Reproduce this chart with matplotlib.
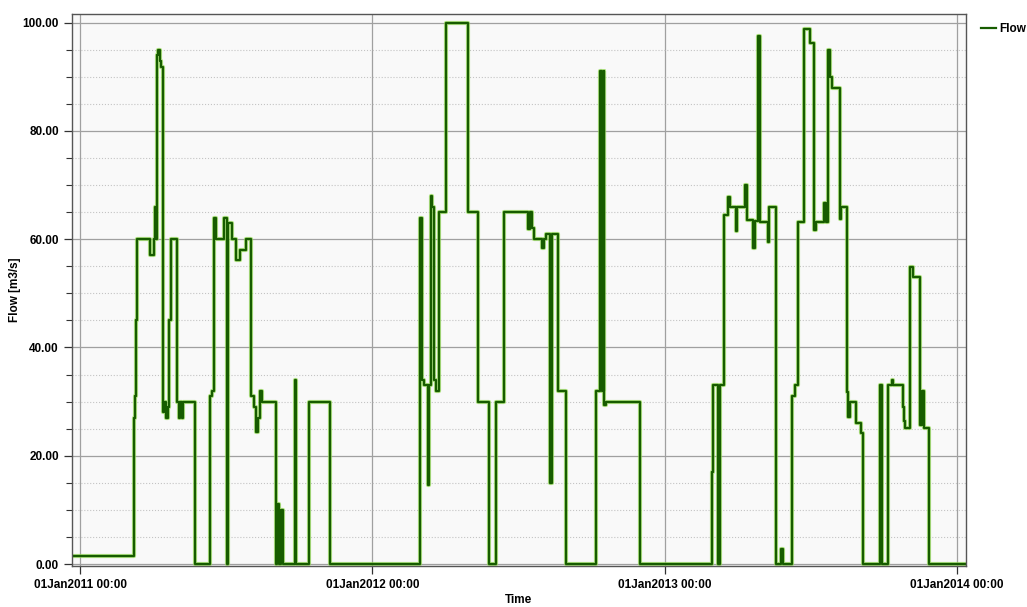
import matplotlib
matplotlib.use("Agg")
import matplotlib.pyplot as plt
import matplotlib.dates as mdates
from matplotlib.ticker import MultipleLocator, FormatStrFormatter
import pandas as pd

# step series: value holds from each date until the next one
dates = [
    "2010-12-21", "2011-03-09", "2011-03-10", "2011-03-11", "2011-03-13", "2011-03-29",
    "2011-04-03", "2011-04-04", "2011-04-05", "2011-04-07", "2011-04-08", "2011-04-10",
    "2011-04-12", "2011-04-14", "2011-04-16", "2011-04-18", "2011-04-20", "2011-04-22",
    "2011-04-24", "2011-05-02", "2011-05-04", "2011-05-06", "2011-05-08", "2011-05-09",
    "2011-05-24", "2011-06-12", "2011-06-15", "2011-06-17", "2011-06-20",
    "2011-06-30", "2011-07-03", "2011-07-05", "2011-07-09", "2011-07-15", "2011-07-19",
    "2011-07-27", "2011-08-02", "2011-08-06", "2011-08-08", "2011-08-11", "2011-08-13",
    "2011-08-16", "2011-09-03", "2011-09-04", "2011-09-06", "2011-09-09", "2011-09-11",
    "2011-09-26", "2011-09-28", "2011-10-14", "2011-11-09",
    "2012-03-01", "2012-03-03", "2012-03-06", "2012-03-11", "2012-03-12", "2012-03-14",
    "2012-03-16", "2012-03-18", "2012-03-21", "2012-03-24", "2012-04-02", "2012-04-30",
    "2012-05-12", "2012-05-26", "2012-06-03", "2012-06-13", "2012-07-14", "2012-07-16",
    "2012-07-18", "2012-07-21", "2012-07-31", "2012-08-02", "2012-08-05", "2012-08-10",
    "2012-08-12", "2012-08-20", "2012-08-30", "2012-10-06", "2012-10-11", "2012-10-14",
    "2012-10-16", "2012-10-17", "2012-10-19", "2012-12-01",
    "2013-03-01", "2013-03-02", "2013-03-08", "2013-03-10", "2013-03-15", "2013-03-21",
    "2013-03-23", "2013-03-30", "2013-04-01", "2013-04-11", "2013-04-13", "2013-04-21",
    "2013-04-23", "2013-04-27", "2013-04-30", "2013-05-09", "2013-05-11", "2013-05-19",
    "2013-05-26", "2013-05-28", "2013-06-08", "2013-06-09", "2013-06-12", "2013-06-16",
    "2013-06-24", "2013-07-01", "2013-07-06", "2013-07-08", "2013-07-19", "2013-07-21",
    "2013-07-23", "2013-07-26", "2013-07-28", "2013-08-07", "2013-08-09", "2013-08-16",
    "2013-08-18", "2013-08-20", "2013-08-28", "2013-09-03", "2013-09-05", "2013-09-27",
    "2013-09-29", "2013-10-07", "2013-10-11", "2013-10-13", "2013-10-25", "2013-10-27",
    "2013-10-28", "2013-11-03", "2013-11-07", "2013-11-15", "2013-11-18", "2013-11-21",
    "2013-11-27", "2014-01-12",
]
flow = [
    1.5, 27, 31, 45, 60, 57,
    60, 66, 60, 94, 95, 93,
    91.8, 28, 30, 27, 29, 45,
    60, 30, 27, 30, 27, 30,
    0, 31, 32, 64, 60,
    64, 0, 62.9, 60, 56.1, 58,
    60, 31, 29, 24.3, 27, 31.9,
    30, 0, 11, 0, 10, 0,
    34, 0, 30, 0,
    64, 34, 33, 14.6, 33, 68,
    66, 34, 32, 65, 100, 65,
    30, 0, 30, 65, 61.8, 65,
    62, 60, 58.4, 60, 61, 15,
    61, 32, 0, 32, 91, 32,
    91, 29.3, 30, 0,
    17, 33, 0, 33, 64.5, 67.8,
    66, 61.6, 66, 70, 63.5, 58.3,
    63.3, 97.5, 63.2, 59.5, 66, 0,
    2.7, 0, 15.6, 31, 33, 63.2,
    98.9, 96.2, 61.7, 63.2, 66.6, 63.2,
    94.9, 90, 88, 63.8, 66, 31.8,
    27.2, 30, 26, 24.2, 0, 33,
    0, 33, 34, 33, 29, 26.5,
    25.1, 54.9, 53, 25.6, 31.9, 25.1,
    0, 0,
]

year_ticks = ["2011-01-01", "2012-01-01", "2013-01-01", "2014-01-01"]

plt.rcParams["font.family"] = ["Liberation Sans", "DejaVu Sans"]

t = pd.to_datetime(dates)

fig = plt.figure(figsize=(10.27, 6.07), dpi=100)
ax = fig.add_axes([0.0701, 0.0675, 0.8705, 0.9095])
ax.set_facecolor("#f9f9f9")

# light halo under the dark line, like the original renderer
ax.plot(t, flow, drawstyle="steps-post", color="#8fd650", linewidth=3.0, alpha=0.7)
ax.plot(t, flow, drawstyle="steps-post", color="#175c00", linewidth=1.6, label="Flow")

ax.set_xlim(pd.Timestamp("2010-12-21 14:00"), pd.Timestamp("2014-01-12"))
ax.set_ylim(-0.37, 101.6)

ax.yaxis.set_major_locator(MultipleLocator(20))
ax.yaxis.set_minor_locator(MultipleLocator(5))
ax.yaxis.set_major_formatter(FormatStrFormatter("%.2f"))
ax.set_xticks(pd.to_datetime(year_ticks))
ax.xaxis.set_major_formatter(mdates.DateFormatter("%d%b%Y %H:%M"))

ax.grid(True, which="major", color="#a0a0a0", linewidth=0.9)
ax.grid(True, which="minor", axis="y", color="#c4c4c4", linestyle=":", linewidth=0.8)
ax.set_axisbelow(True)

ax.tick_params(axis="both", which="major", direction="out", length=6, width=0.9,
               colors="#333333", labelcolor="black", labelsize=8.5)
ax.tick_params(axis="y", which="minor", direction="out", length=4, width=0.8, colors="#333333")
for lbl in ax.get_xticklabels() + ax.get_yticklabels():
    lbl.set_fontweight("bold")

for s in ax.spines.values():
    s.set_color("#555555")
    s.set_linewidth(1.0)

ax.set_xlabel("Time", fontsize=8.5, fontweight="bold", labelpad=2)
ax.set_ylabel("Flow [m3/s]", fontsize=8.5, fontweight="bold", labelpad=1)

fig.legend(loc="upper left", bbox_to_anchor=(0.955, 0.962), frameon=False,
           borderpad=0, borderaxespad=0, handlelength=1.3, handletextpad=0.3,
           prop={"weight": "bold", "size": 8.5})

fig.savefig("out.png", dpi=100)
